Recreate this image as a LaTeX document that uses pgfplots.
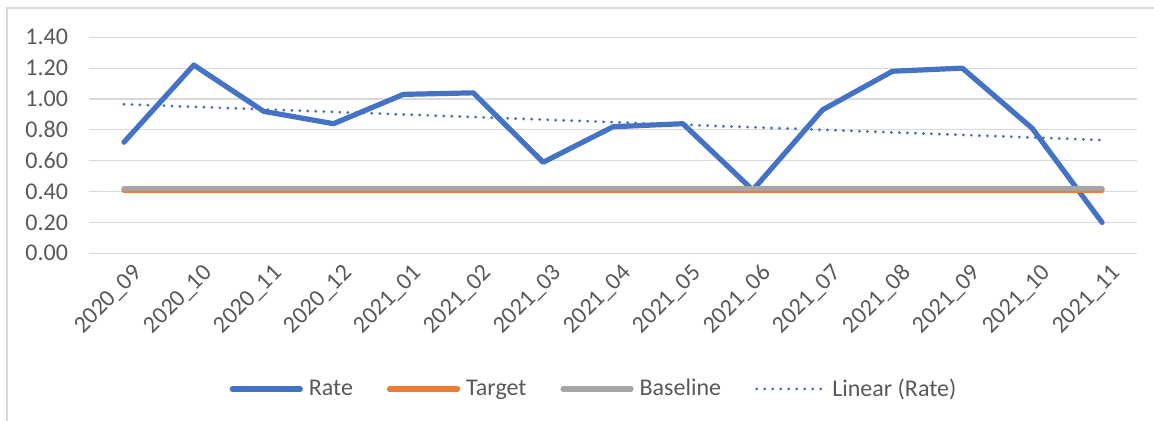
\documentclass[border=0pt]{standalone}
\usepackage{fontspec}
\setmainfont{Carlito}
\usepackage{pgfplots}
\pgfplotsset{compat=1.18}
\definecolor{rateblue}{HTML}{4472C4}
\definecolor{targetorange}{HTML}{ED7D31}
\definecolor{basegray}{HTML}{A5A5A5}
\definecolor{gridgray}{HTML}{D9D9D9}
\definecolor{textgray}{HTML}{595959}
\begin{document}
\begin{tikzpicture}[font=\fontsize{12}{14}\selectfont]
\useasboundingbox (-44.5pt,-83.85pt) rectangle (532.5pt,126.65pt);
\begin{axis}[
  scale only axis, width=524pt, height=108pt,
  xmin=-0.5, xmax=14.5, ymin=0, ymax=1.4,
  xtick={0,...,14},
  xticklabels={2020\_09,2020\_10,2020\_11,2020\_12,2021\_01,2021\_02,2021\_03,2021\_04,2021\_05,2021\_06,2021\_07,2021\_08,2021\_09,2021\_10,2021\_11},
  ytick={0,0.2,0.4,0.6,0.8,1.0,1.2,1.4},
  /pgf/number format/assume math mode=true,
  yticklabel style={/pgf/number format/fixed, /pgf/number format/fixed zerofill, /pgf/number format/precision=2, xshift=-7pt},
  xticklabel style={rotate=45, anchor=east, xshift=3pt, yshift=-11pt},
  ticklabel style={text=textgray},
  ymajorgrids, grid style={gridgray, line width=0.6pt},
  axis line style={draw=none}, tick style={draw=none},
  legend columns=4,
  legend style={draw=none, fill=none, at={(0.4838,-0.628)}, anchor=center, text=textgray,
    /tikz/every even column/.append style={column sep=14pt},
    nodes={inner sep=3pt}},
  legend image code/.code={\draw[#1, line cap=round] (0pt,0pt) -- (34pt,0pt);},
]
\addplot[rateblue, line width=2.6pt, line join=round, line cap=round] coordinates {
 (0,0.72) (1,1.22) (2,0.92) (3,0.84) (4,1.03) (5,1.04) (6,0.59) (7,0.82)
 (8,0.84) (9,0.41) (10,0.93) (11,1.18) (12,1.20) (13,0.81) (14,0.20)};
\addlegendentry{Rate}
\addplot[targetorange, line width=2.6pt, line cap=round] coordinates {
 (0,0.41) (1,0.41) (2,0.41) (3,0.41) (4,0.41) (5,0.41) (6,0.41) (7,0.41)
 (8,0.41) (9,0.41) (10,0.41) (11,0.41) (12,0.41) (13,0.41) (14,0.41)};
\addlegendentry{Target}
\addplot[basegray, line width=2.6pt, line cap=round] coordinates {
 (0,0.42) (1,0.42) (2,0.42) (3,0.42) (4,0.42) (5,0.42) (6,0.42) (7,0.42)
 (8,0.42) (9,0.42) (10,0.42) (11,0.42) (12,0.42) (13,0.42) (14,0.42)};
\addlegendentry{Baseline}
\addplot[rateblue, line width=1.6pt, line cap=round, dash pattern=on 0pt off 4pt] coordinates {
 (0,0.966) (14,0.734)};
\addlegendentry{Linear (Rate)}
\end{axis}
\draw[gridgray, line width=0.8pt] (-41pt,-83.85pt) -- (-41pt,122.65pt) -- (532.5pt,122.65pt);
\end{tikzpicture}
\end{document}
